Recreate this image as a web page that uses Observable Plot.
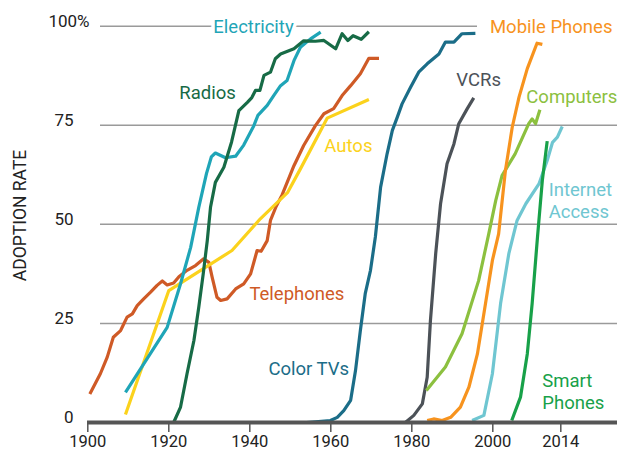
<!DOCTYPE html>
<html>
<head>
<meta charset="utf-8">
<script src="https://cdn.jsdelivr.net/npm/d3@7"></script>
<script src="https://cdn.jsdelivr.net/npm/@observablehq/plot@0.6"></script>
<style>
  html, body { margin: 0; padding: 0; background: #fff; }
  #chart svg { display: block; }
</style>
</head>
<body>
<div id="chart"></div>
<script>
// ---- data (year, adoption %) ----
const telephones = [[1900.5,7.2],[1903.1,12.3],[1904.8,16.5],[1906.3,21.5],[1908.1,23.2],[1909.7,26.6],[1911,27.4],[1912.2,29.5],[1913.8,31.2],[1915.5,32.9],[1917.1,34.6],[1918.4,35.7],[1919.6,34.7],[1921.2,35.2],[1922.5,36.8],[1924.5,38.4],[1926.6,39.6],[1928.6,41.3],[1929.9,40.4],[1930.7,36.7],[1931.9,31.6],[1932.8,30.8],[1934.4,31.2],[1936.5,33.7],[1938.5,35],[1940.2,37.5],[1941.8,43.4],[1942.8,43.2],[1944.3,45.9],[1945.1,51],[1946.5,54.5],[1948,57.5],[1950.9,64.8],[1953.3,69.9],[1956.2,74.9],[1958.3,77.9],[1960.7,79.2],[1962.8,82.5],[1964.9,85],[1967.3,88],[1969.4,91.9],[1971.9,91.9]];
const autos = [[1909.3,2],[1920,33.3],[1935.6,43.4],[1942.6,51.4],[1949.3,58],[1952.5,64],[1959.1,76.8],[1969.4,81.5]];
const electricity = [[1909.3,7.6],[1919.6,24],[1922.9,35],[1925.4,44.2],[1927.4,54.3],[1929.3,62.8],[1930.5,67],[1931.5,68],[1934,66.8],[1936.5,67.2],[1938.5,70],[1941,74.9],[1942,77.5],[1944.3,80],[1945.9,82.5],[1947.6,85],[1949.2,86.3],[1950.9,91.3],[1952.5,94.7],[1955,96.8],[1957.5,98.5]];
const radios = [[1921.2,0],[1922.9,3.9],[1924.5,12.3],[1926.2,20.7],[1927.4,29.1],[1928.5,37.5],[1929.5,45.9],[1930.3,54.3],[1931.5,60.6],[1933.6,64.4],[1935.5,70.8],[1937.3,78.7],[1939.4,80.8],[1940.5,82],[1941.4,83.8],[1942.5,83.8],[1943.5,87.6],[1945.1,88.4],[1946.3,91.8],[1947.6,93],[1950.9,94.3],[1953.3,96.3],[1956.2,96.2],[1958.3,96.4],[1961.2,94.3],[1962.8,98.1],[1964.2,96.4],[1965.5,97.6],[1967.5,96.7],[1969.4,98.6]];
const colorTVs = [[1954,0],[1959.9,0.5],[1961.6,1.3],[1963.2,3],[1964.9,5.6],[1966.1,13.1],[1967.3,23.2],[1968.5,32.5],[1969.8,38.4],[1971,46.8],[1972.3,59.4],[1973.9,67.8],[1975.2,73.7],[1976.4,77],[1977.6,80.4],[1979.7,84.6],[1981.7,88.4],[1983.8,90.5],[1986.7,93],[1988.3,96],[1990.4,96],[1992.4,98.1],[1995.7,98.2]];
const vcrs = [[1978.4,0],[1980.5,1.8],[1982.6,4.7],[1983.8,11.4],[1984.6,25.7],[1985.9,42.6],[1987.1,55.2],[1988.7,65.3],[1990.4,70.3],[1991.6,75.4],[1993.7,79.2],[1995.3,81.9]];
const computers = [[1983.6,8.1],[1988.3,14],[1992.4,22.4],[1996.5,35.8],[1999,47.6],[2000.6,56],[2001.9,62.3],[2004.6,67.8],[2007.4,75.4],[2008.1,76.6],[2008.8,75.4],[2009.7,78.9]];
const mobilePhones = [[1983.8,0.5],[1985.4,0.9],[1987.5,0.5],[1989.6,1.3],[1992,3.9],[1994.1,8.9],[1996.2,17.3],[1998.2,30],[1999.9,40.9],[2001.2,47.6],[2002.6,63.6],[2004,74.5],[2005.4,82.1],[2007.1,89.3],[2009.1,95.7],[2010.2,95.4]];
const internetAccess = [[1994.9,0.5],[1997.8,1.8],[1999.9,12.3],[2001.6,30],[2003.3,42.6],[2005,51],[2006.8,55.2],[2009.5,60.2],[2011.2,66.1],[2012.3,70.7],[2013.3,72],[2014.3,74.7]];
const smartPhones = [[2003.9,0.5],[2005.7,6.4],[2007.1,17.3],[2008.1,30],[2009.2,46.8],[2010.2,61.1],[2011.2,71]];

const seriesNames = ["Telephones","Autos","Electricity","Radios","Color TVs","VCRs","Computers","Mobile Phones","Internet Access","Smart Phones"];
const seriesData  = [telephones, autos, electricity, radios, colorTVs, vcrs, computers, mobilePhones, internetAccess, smartPhones];
const seriesColors = ["#cf5a26","#fbd21c","#1fa5b7","#176b46","#1b6d88","#4c5258","#8cc03f","#f7931e","#6fc6d1","#18a149"];

const xTicks = [1900, 1920, 1940, 1960, 1980, 2000, 2014];
const yTicks = [0, 25, 50, 75];

// label anchors (year, value) and text
const labelText = ["Telephones","Autos","Electricity","Radios","Color TVs","VCRs","Computers","Mobile Phones","Internet\nAccess","Smart\nPhones"];
const labelX = [1939.9, 1958.4, 1931.0, 1922.6, 1944.6, 1991.0, 2006.9, 1999.3, 2011.5, 2010.2];
const labelY = [32.6, 70.1, 100.2, 83.5, 13.9, 86.6, 82.3, 100.2, 56.1, 7.9];

// ---- build tables ----
const rows = seriesNames.flatMap((name, i) => seriesData[i].map(([year, value]) => ({series: name, year, value})));
const labels = seriesNames.map((name, i) => ({series: name, text: labelText[i], x: labelX[i], y: labelY[i]}));

const font = "Roboto, 'Liberation Sans', sans-serif";

const chart = Plot.plot({
  width: 617,
  height: 452,
  marginLeft: 87,
  marginRight: 0,
  marginTop: 26,
  marginBottom: 30,
  style: {fontFamily: font, fontSize: "17px", background: "#fff", color: "#222"},
  x: {type: "linear", domain: [1900, 2000, 2014], range: [87.3, 492.3, 560.3]},
  y: {type: "linear", domain: [0, 100], range: [422, 25.7]},
  color: {type: "ordinal", domain: seriesNames, range: seriesColors},
  marks: [
    Plot.ruleY([25, 50, 75], {stroke: "#9a9a9a", strokeWidth: 1.5, insetLeft: 13}),
    Plot.ruleY([100], {stroke: "#9a9a9a", strokeWidth: 1.5, insetLeft: 13, insetRight: 140}),
    Plot.text(labels, {
      x: "x", y: "y", text: "text", fill: "series",
      textAnchor: "start", lineAnchor: "middle", lineHeight: 1.2,
      fontSize: 18.5, stroke: "white", strokeWidth: 7
    }),
    Plot.line(rows, {
      x: "year", y: "value", z: "series", stroke: "series",
      strokeWidth: 3.2, strokeLinejoin: "round", strokeLinecap: "butt"
    }),
    Plot.ruleY([0], {stroke: "#555", strokeWidth: 4}),
    Plot.axisX({
      ticks: xTicks, tickFormat: d => String(d), tickSize: 10, tickPadding: 3,
      stroke: "#555", strokeWidth: 1.5, fontSize: 16.5, fill: "#222", label: null
    }),
    Plot.axisY({
      ticks: yTicks, tickSize: 0, tickPadding: 14, dy: -5,
      fontSize: 17, fill: "#222", label: null
    }),
    Plot.text(["100%"], {
      frameAnchor: "top-left", textAnchor: "end", lineAnchor: "middle", dx: 2, dy: -5,
      fontSize: 17, fill: "#222"
    }),
    Plot.text(["ADOPTION RATE"], {
      frameAnchor: "left", textAnchor: "middle", lineAnchor: "middle", dx: -67, dy: -9, rotate: -90,
      fontSize: 17.5, fill: "#222", letterSpacing: 0.3
    })
  ]
});

document.getElementById("chart").appendChild(chart);
</script>
</body>
</html>
